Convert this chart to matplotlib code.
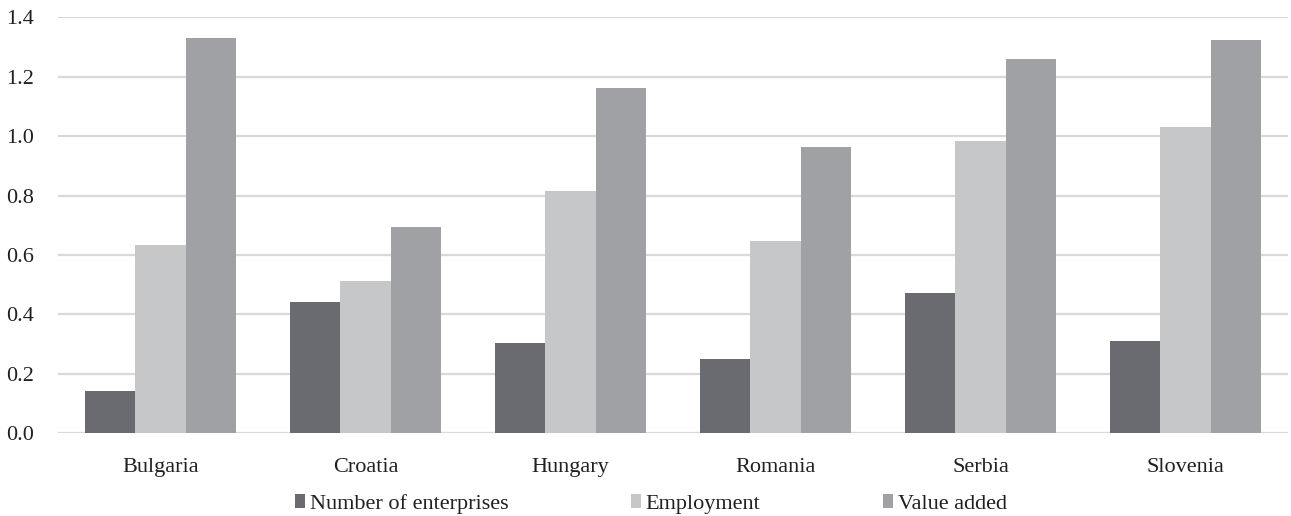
import numpy as np
import matplotlib.pyplot as plt

countries = ['Bulgaria', 'Croatia', 'Hungary', 'Romania', 'Serbia', 'Slovenia']
enterprises = [0.144, 0.442, 0.303, 0.249, 0.471, 0.310]
employment = [0.633, 0.511, 0.817, 0.648, 0.985, 1.031]
value_added = [1.330, 0.695, 1.161, 0.963, 1.261, 1.323]

plt.rcParams['font.family'] = ['Liberation Serif', 'DejaVu Serif']
plt.rcParams['font.size'] = 16

fig = plt.figure(figsize=(12.91, 5.16), dpi=100)
ax = fig.add_axes([58/1291, 82.7/516, 1230/1291, 416/516])

x = np.arange(len(countries))
w = 0.244
ax.bar(x - w, enterprises, w, color='#6a6b70', label='Number of enterprises', zorder=3)
ax.bar(x, employment, w, color='#c6c7c9', label='Employment', zorder=3)
ax.bar(x + w, value_added, w, color='#a0a1a5', label='Value added', zorder=3)

ax.set_xlim(-0.5, len(countries) - 0.5)
ax.set_ylim(0, 1.4)
ax.set_yticks(np.arange(0, 1.41, 0.2))
ax.set_yticklabels(['%.1f' % v for v in np.arange(0, 1.41, 0.2)])
ax.set_xticks(x)
ax.set_xticklabels(countries)
ax.yaxis.grid(True, color='#d9d9d9', linewidth=1.6, zorder=0)
ax.set_axisbelow(True)
for s in ax.spines.values():
    s.set_visible(False)
ax.tick_params(axis='both', length=0, colors='#231f20', labelsize=16)
ax.tick_params(axis='y', pad=17)
ax.tick_params(axis='x', pad=18)

fig.legend(loc='center', bbox_to_anchor=(0.504, 0.024), ncol=3, frameon=False,
           handlelength=0.45, handleheight=0.6, handletextpad=0.23,
           columnspacing=5.5, labelcolor='#231f20',
           prop={'family': 'Liberation Serif', 'size': 16})

fig.savefig('out.png', dpi=100)
